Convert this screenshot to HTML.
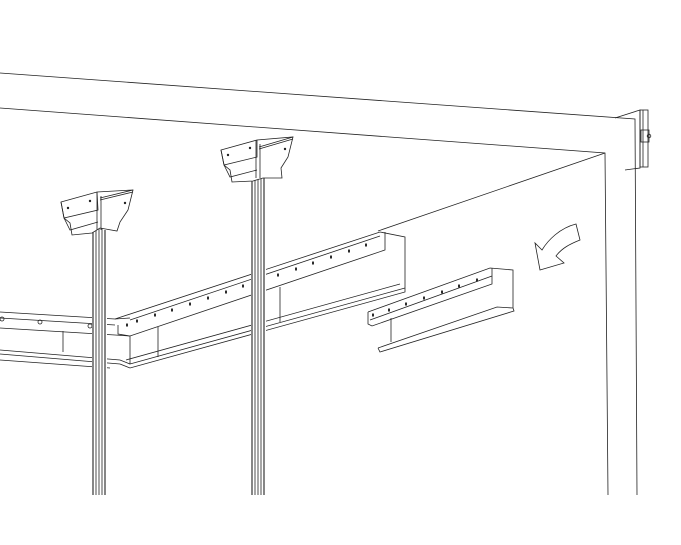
<!DOCTYPE html>
<html><head><meta charset="utf-8"><style>html,body{margin:0;padding:0;background:#fff}svg{display:block}</style></head>
<body>
<svg width="681" height="545" viewBox="0 0 681 545" xmlns="http://www.w3.org/2000/svg" fill="none" stroke="#222" stroke-width="0.8">
<polyline points="0,73 635,119 637,495"/>
<polyline points="0,108 605,153 608,495"/>
<line x1="605" y1="153" x2="378" y2="231"/>
<polyline points="615,118 640,110 640,168 625,170"/>
<rect x="640" y="110" width="8" height="57"/>
<line x1="643" y1="110" x2="643" y2="167"/>
<rect x="641" y="130" width="8" height="12"/>
<circle cx="649" cy="136" r="1.8"/>
<polyline points="0,312 115,319 130,318"/>
<polyline points="0,318 115,325"/>
<polyline points="0,328 115,335 130,336"/>
<line x1="63" y1="331" x2="63" y2="352"/>
<polyline points="0,350 120,360 130,364"/>
<polyline points="0,354 120,364"/>
<polyline points="0,360 110,368"/>
<circle cx="2" cy="319" r="2"/><circle cx="40" cy="322" r="2"/><circle cx="90" cy="326" r="2"/>
<polyline points="115,319 380,232 405,237 405,286"/>
<polyline points="130,320 380,236"/>
<polyline points="118,325 118,334 130,336 385,250 385,232"/>
<polyline points="130,336 130,364 405,288"/>
<polyline points="126,360 400,284"/>
<polyline points="120,364 130,368 405,292 405,286"/>
<line x1="158" y1="327" x2="158" y2="357"/>
<line x1="280" y1="287" x2="280" y2="322"/>
<g fill="#222" stroke="none">
<ellipse cx="127" cy="325" rx="1" ry="1.8"/><ellipse cx="137" cy="321" rx="1" ry="1.8"/><ellipse cx="155" cy="315" rx="1" ry="1.8"/><ellipse cx="172" cy="310" rx="1" ry="1.8"/><ellipse cx="190" cy="304" rx="1" ry="1.8"/><ellipse cx="208" cy="298" rx="1" ry="1.8"/><ellipse cx="226" cy="292" rx="1" ry="1.8"/><ellipse cx="243" cy="286" rx="1" ry="1.8"/><ellipse cx="278" cy="275" rx="1" ry="1.8"/><ellipse cx="296" cy="269" rx="1" ry="1.8"/><ellipse cx="313" cy="263" rx="1" ry="1.8"/><ellipse cx="331" cy="257" rx="1" ry="1.8"/><ellipse cx="349" cy="251" rx="1" ry="1.8"/><ellipse cx="366" cy="245" rx="1" ry="1.8"/>
<ellipse cx="373" cy="315" rx="1" ry="1.8"/><ellipse cx="389" cy="310" rx="1" ry="1.8"/><ellipse cx="406" cy="304" rx="1" ry="1.8"/><ellipse cx="424" cy="298" rx="1" ry="1.8"/><ellipse cx="442" cy="292" rx="1" ry="1.8"/><ellipse cx="459" cy="286" rx="1" ry="1.8"/><ellipse cx="477" cy="280" rx="1" ry="1.8"/>
</g>
<polyline points="368,312 490,268 513,270 513,308"/>
<polyline points="370,320 492,276"/>
<polyline points="368,312 368,324 372,326 492,284 492,268"/>
<line x1="391" y1="318" x2="391" y2="342"/>
<polyline points="378,348 497,307 513,308"/>
<polyline points="378,348 380,352 514,311 513,308"/>
<rect x="92" y="228" width="15" height="267" fill="#fff" stroke="none"/>
<rect x="251" y="175" width="15" height="320" fill="#fff" stroke="none"/>
<g stroke-width="0.8">
<line x1="93" y1="230" x2="93" y2="495" stroke-width="1.1"/><line x1="96" y1="230" x2="96" y2="495"/><line x1="99" y1="228" x2="99" y2="495"/><line x1="102" y1="228" x2="102" y2="495"/><line x1="105" y1="230" x2="105" y2="495" stroke-width="1.1"/>
<line x1="252" y1="178" x2="252" y2="495" stroke-width="1.1"/><line x1="255" y1="178" x2="255" y2="495"/><line x1="258" y1="175" x2="258" y2="495"/><line x1="261" y1="175" x2="261" y2="495"/><line x1="264" y1="178" x2="264" y2="495" stroke-width="1.1"/>
</g>
<g>
<polygon points="61,202 97,192 133,190 128,210 120,222 117,231 100,228 92,233 72,235 70,223 64,218" fill="#fff"/>
<polyline points="61,202 64,218 98,210 97,192"/>
<polyline points="64,218 70,230 98,222"/>
<line x1="100" y1="198" x2="133" y2="190"/>
<line x1="100" y1="200" x2="133" y2="192"/>
<line x1="97" y1="192" x2="97" y2="230"/><line x1="101" y1="196" x2="101" y2="230"/>
</g>
<g>
<polygon points="221,150 257,140 293,137 288,157 281,168 282,178 263,178 253,181 232,182 230,170 224,165" fill="#fff"/>
<polyline points="221,150 224,165 257,157 257,140"/>
<polyline points="224,165 230,177 257,170"/>
<line x1="259" y1="147" x2="293" y2="137"/>
<line x1="259" y1="149" x2="293" y2="139"/>
<line x1="256" y1="140" x2="256" y2="178"/><line x1="260" y1="144" x2="260" y2="178"/>
</g>
<g fill="#222" stroke="none"><circle cx="68" cy="208" r="1.2"/><circle cx="90" cy="201" r="1.2"/><circle cx="125" cy="203" r="1.2"/><circle cx="228" cy="155" r="1.2"/><circle cx="250" cy="148" r="1.2"/><circle cx="285" cy="149" r="1.2"/></g>
<path d="M576,224 C560,228 548,240 542,250 L535,243 L540,270 L564,263 L556,256 C562,248 570,244 580,240 Z" fill="#fff"/>
</svg>
</body></html>
